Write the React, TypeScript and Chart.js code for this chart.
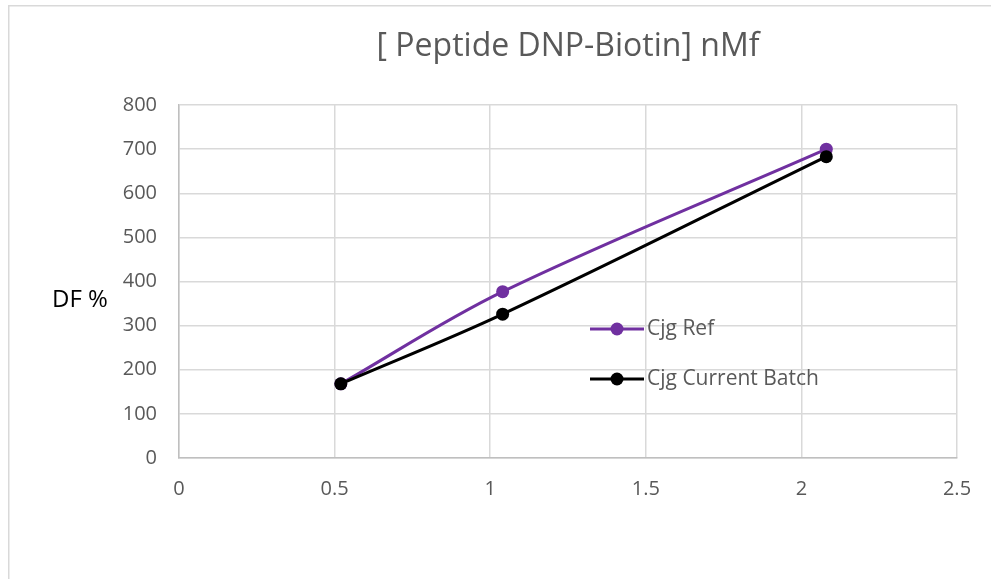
import React, { useEffect, useRef } from "react";
import { Chart, registerables } from "chart.js";

Chart.register(...registerables);

const TITLE = "[ Peptide DNP-Biotin] nMf";
const Y_LABEL = "DF %";
const SERIES_NAMES = ["Cjg Ref", "Cjg Current Batch"];
const X_VALUES = [0.52, 1.04, 2.08];
const REF_VALUES = [168, 377, 700];
const CURRENT_VALUES = [168, 326, 683];
const COLORS = ["#7030a0", "#000000"];

const FONT = "'Open Sans', 'Liberation Sans', sans-serif";

const decorPlugin = {
  id: "decor",
  beforeDraw(chart: any) {
    const ctx = chart.ctx;
    ctx.save();
    ctx.fillStyle = "#ffffff";
    ctx.fillRect(0, 0, chart.width, chart.height);
    ctx.strokeStyle = "#d9d9d9";
    ctx.lineWidth = 1.5;
    ctx.beginPath();
    ctx.moveTo(8.75, chart.height);
    ctx.lineTo(8.75, 5.75);
    ctx.lineTo(chart.width, 5.75);
    ctx.stroke();
    ctx.restore();
  },
  afterDraw(chart: any) {
    const ctx = chart.ctx;
    const area = chart.chartArea;
    ctx.save();
    // title
    ctx.fillStyle = "#595959";
    ctx.font = `32px ${FONT}`;
    ctx.textAlign = "center";
    ctx.textBaseline = "middle";
    ctx.fillText(TITLE, (area.left + area.right) / 2, 47);
    // y label
    ctx.fillStyle = "#000000";
    ctx.font = `24px ${FONT}`;
    ctx.textAlign = "left";
    ctx.fillText(Y_LABEL, 52, 300);
    // legend
    const items = [
      { y: 329, color: COLORS[0], text: SERIES_NAMES[0] },
      { y: 379, color: COLORS[1], text: SERIES_NAMES[1] },
    ];
    items.forEach((it) => {
      ctx.strokeStyle = it.color;
      ctx.lineWidth = 3;
      ctx.beginPath();
      ctx.moveTo(590, it.y);
      ctx.lineTo(644, it.y);
      ctx.stroke();
      ctx.fillStyle = it.color;
      ctx.beginPath();
      ctx.arc(617, it.y, 6.5, 0, Math.PI * 2);
      ctx.fill();
      ctx.fillStyle = "#595959";
      ctx.font = `21px ${FONT}`;
      ctx.textAlign = "left";
      ctx.textBaseline = "middle";
      ctx.fillText(it.text, 647, it.y);
    });
    ctx.restore();
  },
};

export default function App() {
  const ref = useRef<HTMLCanvasElement | null>(null);
  useEffect(() => {
    document.body.style.margin = "0";
    const canvas = ref.current!;
    const tick = { family: FONT, size: 20 };
    const chart = new Chart(canvas, {
      type: "scatter",
      data: {
        datasets: [
          {
            label: SERIES_NAMES[0],
            data: X_VALUES.map((x, i) => ({ x, y: REF_VALUES[i] })),
            borderColor: COLORS[0],
            backgroundColor: COLORS[0],
            showLine: true,
            borderWidth: 3,
            tension: 0.35,
            pointRadius: 6.5,
            pointBorderWidth: 0,
            order: 1,
          },
          {
            label: SERIES_NAMES[1],
            data: X_VALUES.map((x, i) => ({ x, y: CURRENT_VALUES[i] })),
            borderColor: COLORS[1],
            backgroundColor: COLORS[1],
            showLine: true,
            borderWidth: 3,
            tension: 0.35,
            pointRadius: 6.5,
            pointBorderWidth: 0,
            order: 0,
          },
        ],
      },
      options: {
        animation: false,
        responsive: false,
        layout: { padding: { left: 0, top: 105, right: 34, bottom: 0 } },
        plugins: {
          legend: { display: false },
          title: { display: false },
          tooltip: { enabled: false },
        },
        scales: {
          x: {
            type: "linear",
            min: 0,
            max: 2.5,
            ticks: {
              stepSize: 0.5,
              color: "#595959",
              font: tick,
              padding: 19,
              callback: (v: any) => `${Number(v)}`,
            },
            grid: { color: "#d9d9d9", lineWidth: 1.5, drawTicks: false },
            border: { color: "#bfbfbf", width: 1.5 },
            afterFit: (s: any) => {
              s.height = 121;
            },
          },
          y: {
            min: 0,
            max: 800,
            ticks: { stepSize: 100, color: "#595959", font: tick, padding: 22 },
            grid: { color: "#d9d9d9", lineWidth: 1.5, drawTicks: false },
            border: { color: "#bfbfbf", width: 1.5 },
            afterFit: (s: any) => {
              s.width = 179;
            },
          },
        },
      },
      plugins: [decorPlugin],
    } as any);
    return () => chart.destroy();
  }, []);
  return (
    <div style={{ width: 991, height: 579 }}>
      <canvas ref={ref} width={991} height={579} style={{ width: 991, height: 579, display: "block" }} />
    </div>
  );
}
